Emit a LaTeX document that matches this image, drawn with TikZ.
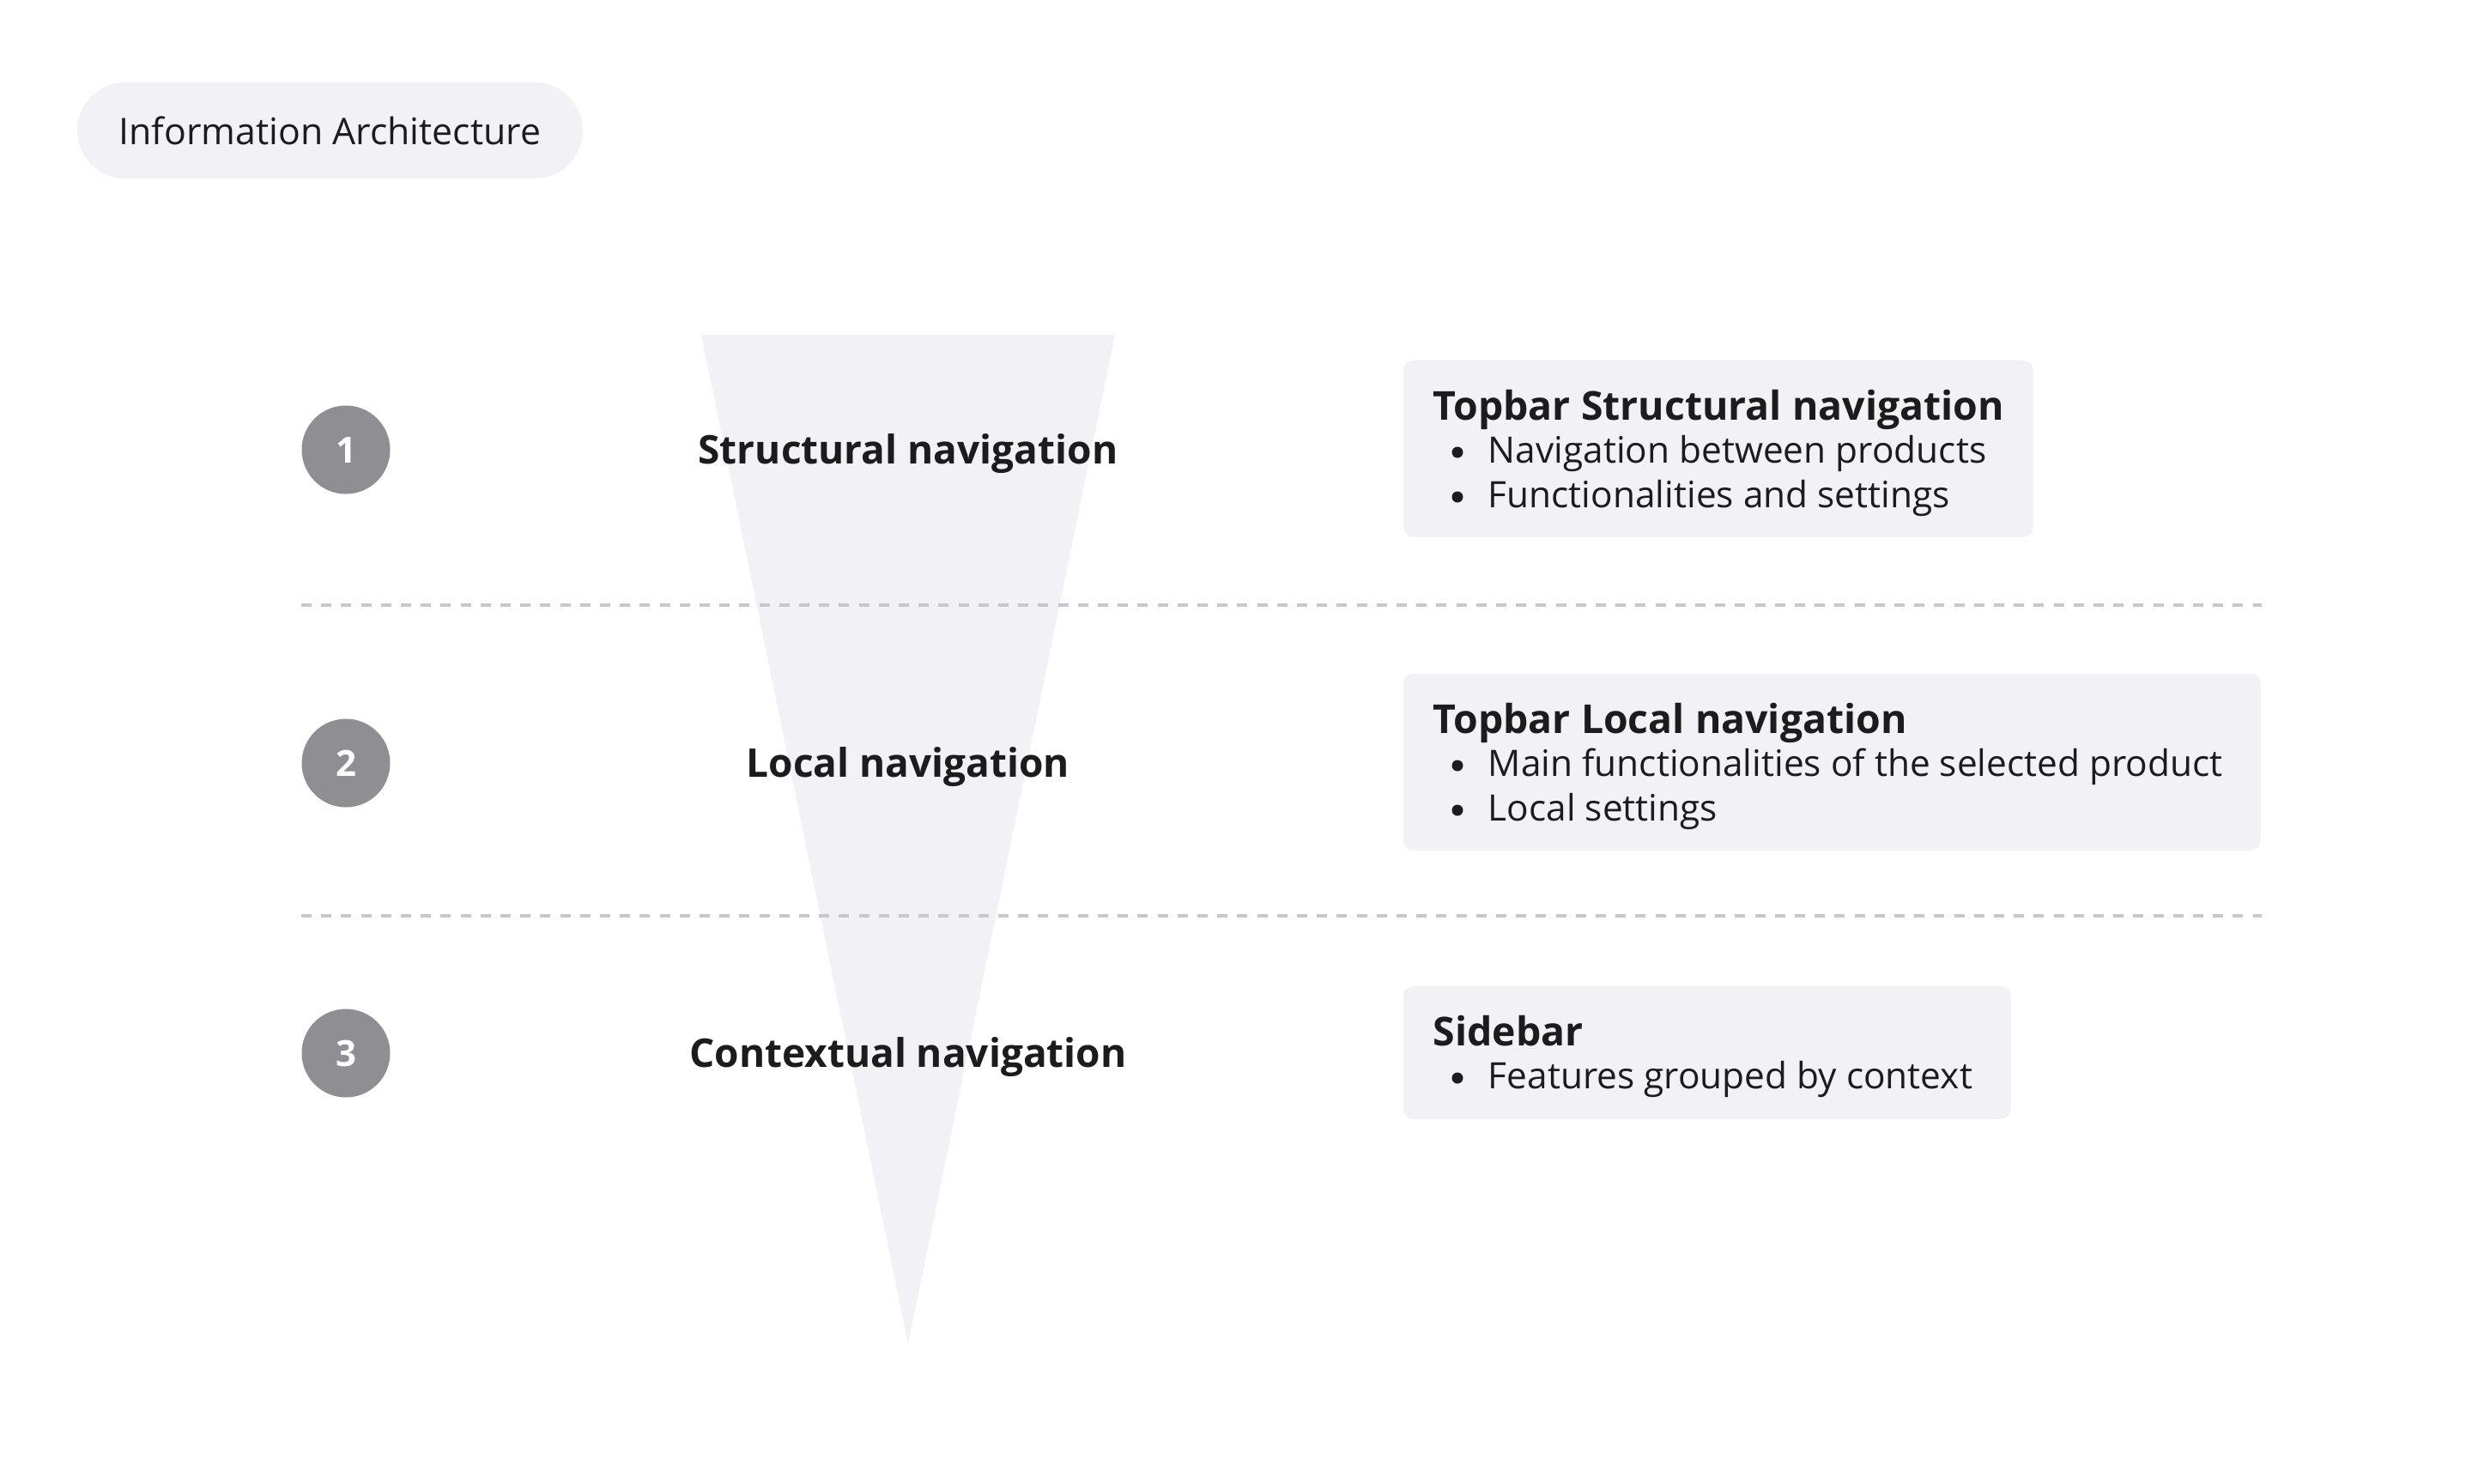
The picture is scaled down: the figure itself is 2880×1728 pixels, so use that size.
\documentclass[tikz,border=0pt]{standalone}
\usepackage{fontspec}
\setmainfont{Open Sans}
\definecolor{panel}{HTML}{F2F2F6}
\definecolor{ink}{HTML}{1C1C1E}
\definecolor{numgray}{HTML}{8E8E93}
\definecolor{sepgray}{HTML}{C7C7CC}
\tikzset{
  pill/.style={fill=panel, rounded corners=14pt, minimum width=147.25pt, minimum height=28pt, inner sep=0pt, text=ink, font=\fontsize{10.7}{12}\selectfont},
  tri/.style={fill=panel},
  num/.style={circle, fill=numgray, minimum size=25.75pt, inner sep=0pt, text=white, font=\bfseries\fontsize{10.5}{12}\selectfont},
  lab/.style={anchor=base, text=ink, inner sep=0pt, font=\bfseries\fontsize{11.5}{13}\selectfont},
  sep/.style={draw=sepgray, line width=0.8pt, dash pattern=on 3pt off 2.8pt},
  box/.style={fill=panel, rounded corners=3pt, anchor=north west, inner sep=0pt},
  ttl/.style={anchor=base west, inner sep=0pt, text=ink, font=\bfseries\fontsize{11.6}{13}\selectfont},
  bul/.style={anchor=base west, inner sep=0pt, text=ink, font=\fontsize{10.6}{12}\selectfont},
  dot/.style={circle, fill=ink, minimum size=3.25pt, inner sep=0pt},
}
\begin{document}
\begin{tikzpicture}[x=0.25pt,y=-0.25pt]
\useasboundingbox (0,0) rectangle (2880,1728);
\fill[white] (0,0) rectangle (2880,1728);
% title pill
\node[pill] (ia) at (384.5,152) {Information Architecture};
% funnel
\fill[tri] (817,390) -- (1299,390) -- (1058,1566) -- cycle;
% separators
\coordinate (s1a) at (351,705); \coordinate (s1b) at (2635,705);
\coordinate (s2a) at (351,1067); \coordinate (s2b) at (2635,1067);
\draw[sep] (s1a) -- (s1b);
\draw[sep] (s2a) -- (s2b);
% numbers
\node[num] (n1) at (403,524) {1};
\node[num] (n2) at (403,889) {2};
\node[num] (n3) at (403,1227) {3};
% labels
\node[lab] (l1) at (1058,540) {Structural navigation};
\node[lab] (l2) at (1058,905) {Local navigation};
\node[lab] (l3) at (1058,1243) {Contextual navigation};
% boxes
\node[box, minimum width=183.5pt, minimum height=51.5pt] (b1) at (1634,419) {};
\node[box, minimum width=249.75pt, minimum height=51.5pt] (b2) at (1634,784) {};
\node[box, minimum width=177pt, minimum height=38.75pt] (b3) at (1634,1148) {};
% box 1 text
\node[ttl] (t1) at (1669,489) {Topbar Structural navigation};
\node[dot] (d11) at (1698,527) {};
\node[bul] (e11) at (1733,539) {Navigation between products};
\node[dot] (d12) at (1698,579) {};
\node[bul] (e12) at (1733,591) {Functionalities and settings};
% box 2 text
\node[ttl] (t2) at (1669,854) {Topbar Local navigation};
\node[dot] (d21) at (1698,892) {};
\node[bul] (e21) at (1733,904) {Main functionalities of the selected product};
\node[dot] (d22) at (1698,944) {};
\node[bul] (e22) at (1733,956) {Local settings};
% box 3 text
\node[ttl] (t3) at (1669,1218) {Sidebar};
\node[dot] (d31) at (1698,1256) {};
\node[bul] (e31) at (1733,1268) {Features grouped by context};
\end{tikzpicture}
\end{document}
